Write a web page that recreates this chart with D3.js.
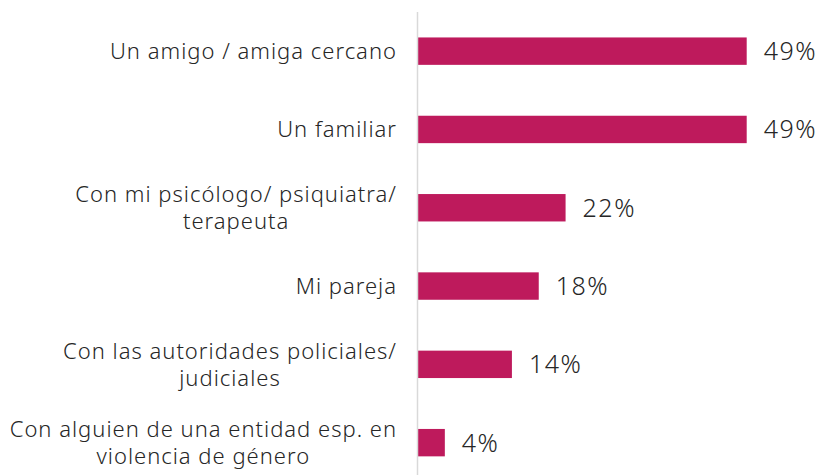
<!DOCTYPE html>
<html>
<head>
<meta charset="utf-8">
<script src="https://cdn.jsdelivr.net/npm/d3@7"></script>
<style>
  body { margin: 0; background: #fff; }
  text { font-family: "Noto Sans", sans-serif; font-weight: 300; fill: #262626; }
</style>
</head>
<body>
<svg id="chart"></svg>
<script>
// categories (each item is a list of lines) and values in %
const categories = [
    ["Un amigo / amiga cercano"],
    ["Un familiar"],
    ["Con mi psicólogo/ psiquiatra/", "terapeuta"],
    ["Mi pareja"],
    ["Con las autoridades policiales/", "judiciales"],
    ["Con alguien de una entidad esp. en", "violencia de género"]
];
const values = [49, 49, 22, 18, 14, 4];

const width = 821, height = 475;
const margin = {top: 12, left: 418, right: 0};
const barColor = "#be1a5c";

const svg = d3.select("#chart")
    .attr("width", width)
    .attr("height", height);

const data = categories.map((c, i) => ({lines: c, value: values[i], key: c.join(" ")}));

const x = d3.scaleLinear()
    .domain([0, 49])
    .range([margin.left, margin.left + 328.7]);

const y = d3.scaleBand()
    .domain(data.map(d => d.key))
    .range([margin.top, margin.top + 6 * 78.3])
    .paddingInner(0.65)
    .paddingOuter(0.325);

// bars
svg.append("g").selectAll("rect")
    .data(data)
    .join("rect")
    .attr("x", x(0))
    .attr("y", d => y(d.key))
    .attr("width", d => x(d.value) - x(0))
    .attr("height", y.bandwidth())
    .attr("fill", barColor);

// axis line
svg.append("line")
    .attr("x1", x(0) - 0.5).attr("x2", x(0) - 0.5)
    .attr("y1", margin.top).attr("y2", height)
    .attr("stroke", "#d9d9d9")
    .attr("stroke-width", 1.5);

// value labels
svg.append("g").selectAll("text")
    .data(data)
    .join("text")
    .attr("x", d => x(d.value) + 17)
    .attr("y", d => y(d.key) + y.bandwidth() / 2)
    .attr("dy", "0.36em")
    .attr("font-size", 25)
    .attr("letter-spacing", 1.5)
    .text(d => d.value + "%");

// category labels, lines centred on each other, block right-aligned
const lineH = 27.5;
const labelRight = 397;
const labels = svg.append("g").selectAll("text")
    .data(data)
    .join("text")
    .attr("font-size", 22)
    .attr("letter-spacing", 1)
    .attr("text-anchor", "middle");

labels.each(function (d) {
    const t = d3.select(this);
    const cy = y(d.key) + y.bandwidth() / 2;
    const n = d.lines.length;
    d.lines.forEach((line, j) => {
        t.append("tspan")
            .attr("y", cy + (j - (n - 1) / 2) * lineH)
            .attr("dy", "0.36em")
            .text(line);
    });
    let maxW = 0;
    t.selectAll("tspan").each(function () {
        maxW = Math.max(maxW, this.getComputedTextLength());
    });
    t.selectAll("tspan").attr("x", labelRight - maxW / 2);
});
</script>
</body>
</html>
